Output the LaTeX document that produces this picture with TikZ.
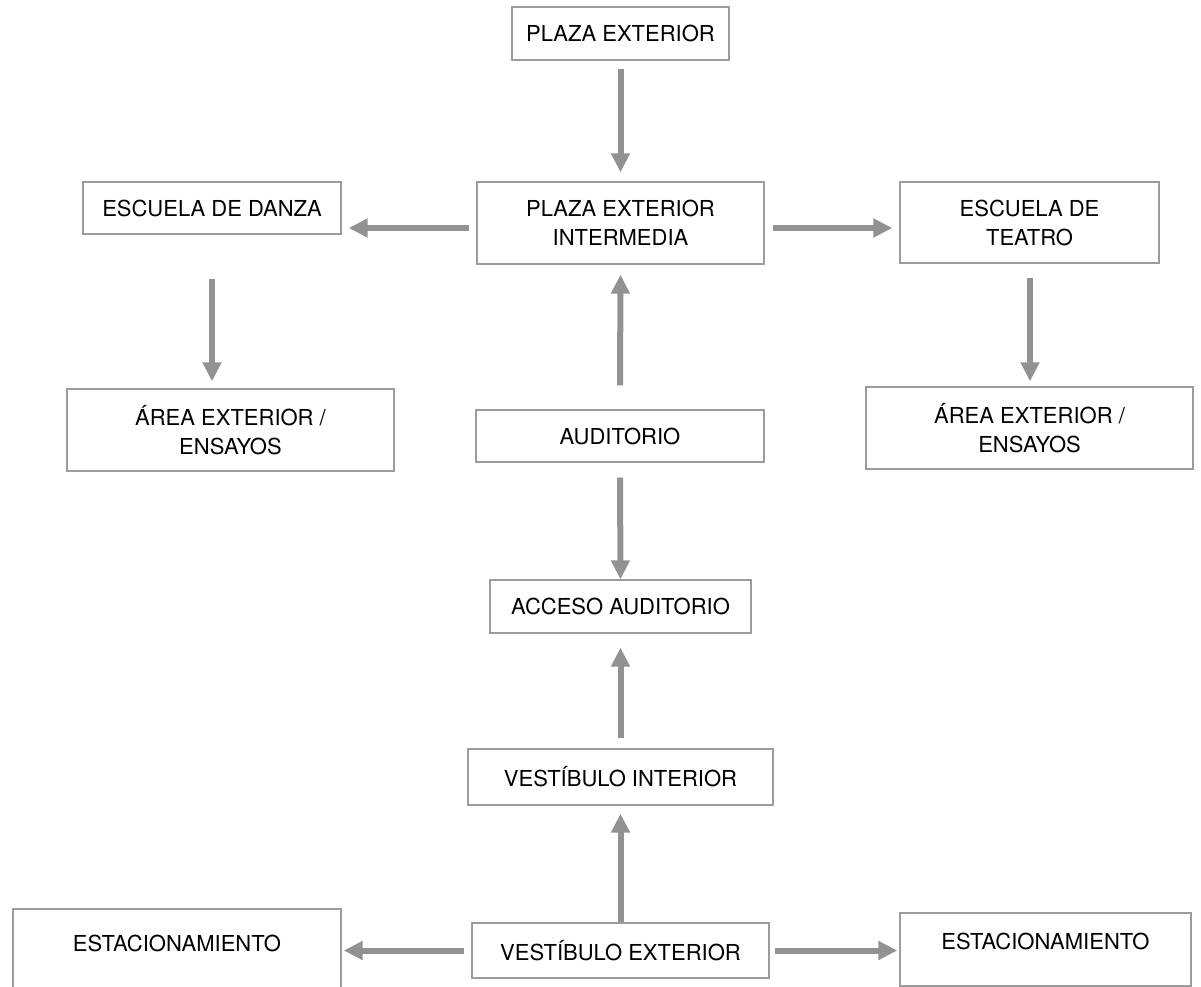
\documentclass[tikz,border=0pt]{standalone}
\usepackage{fontspec}
\setmainfont{TeX Gyre Heros}
\usetikzlibrary{arrows.meta}
\begin{document}
\begin{tikzpicture}[x=1pt,y=-1pt,
  box/.style={draw=boxgray, line width=1.3pt, rectangle, inner sep=0pt, align=center,
    font=\fontsize{22}{29}\selectfont, text=black},
  arr/.style={draw=arrgray, line width=6pt, -{Triangle[length=19pt,width=18pt]}},
  parkbox/.style={box, text height=8pt, text depth=8pt}
]
\definecolor{boxgray}{HTML}{9C9C9C}
\definecolor{arrgray}{HTML}{929292}
\useasboundingbox (0,0) rectangle (1201,987);

\node[box, minimum width=217pt, minimum height=53pt] (pe) at (620.5,33.5) {PLAZA EXTERIOR};
\node[box, minimum width=287pt, minimum height=82pt] (pei) at (620.5,223) {PLAZA EXTERIOR\\INTERMEDIA};
\node[box, minimum width=258pt, minimum height=52pt] (edd) at (212,208) {ESCUELA DE DANZA};
\node[box, minimum width=259pt, minimum height=81pt] (edt) at (1029.5,222.5) {ESCUELA DE\\TEATRO};
\node[box, minimum width=327pt, minimum height=82pt] (aeel) at (230.5,430) {ÁREA EXTERIOR /\\ENSAYOS};
\node[box, minimum width=327pt, minimum height=82pt] (aeer) at (1029.5,428) {ÁREA EXTERIOR /\\ENSAYOS};
\node[box, minimum width=288pt, minimum height=52pt] (aud) at (620,436) {AUDITORIO};
\node[box, minimum width=261pt, minimum height=53pt] (acc) at (620.5,606.5) {ACCESO AUDITORIO};
\node[box, minimum width=305pt, minimum height=56pt] (vi) at (620.5,777) {VESTÍBULO INTERIOR};
\node[box, minimum width=297pt, minimum height=55pt] (ve) at (620.5,950.5) {VESTÍBULO EXTERIOR};
\node[parkbox, minimum width=328pt, minimum height=84pt] (estl) at (177,951) {ESTACIONAMIENTO};
\node[parkbox, minimum width=291pt, minimum height=73pt] (estr) at (1045.5,949.5) {ESTACIONAMIENTO};

% connectors
\draw[arr] ([shift={(0,8)}]pe.south) -- ([shift={(0,-9)}]pei.north);
\draw[arr] ([shift={(-7,5)}]pei.west) -- ([shift={(7,20)}]edd.east);
\draw[arr] ([shift={(8,5)}]pei.east) -- ([shift={(-7,5.5)}]edt.west);
\draw[arr] ([shift={(0,44)}]edd.south) -- ([shift={(-18.5,-7)}]aeel.north);
\draw[arr] ([shift={(0.5,14)}]edt.south) -- ([shift={(0.5,-5)}]aeer.north);
\draw[arr] ([shift={(0,-24)}]aud.north) -- ([shift={(0,10)}]pei.south);
\draw[arr] ([shift={(0,15)}]aud.south) -- (acc.north);
\draw[arr] ([shift={(0,-10)}]vi.north) -- ([shift={(0,14)}]acc.south);
\draw[arr] (ve.north) -- ([shift={(0,8)}]vi.south);
\draw[arr] ([shift={(-7,0)}]ve.west) -- ([shift={(2,-0.5)}]estl.east);
\draw[arr] ([shift={(5,0)}]ve.east) -- ([shift={(-2,1)}]estr.west);
\end{tikzpicture}
\end{document}
